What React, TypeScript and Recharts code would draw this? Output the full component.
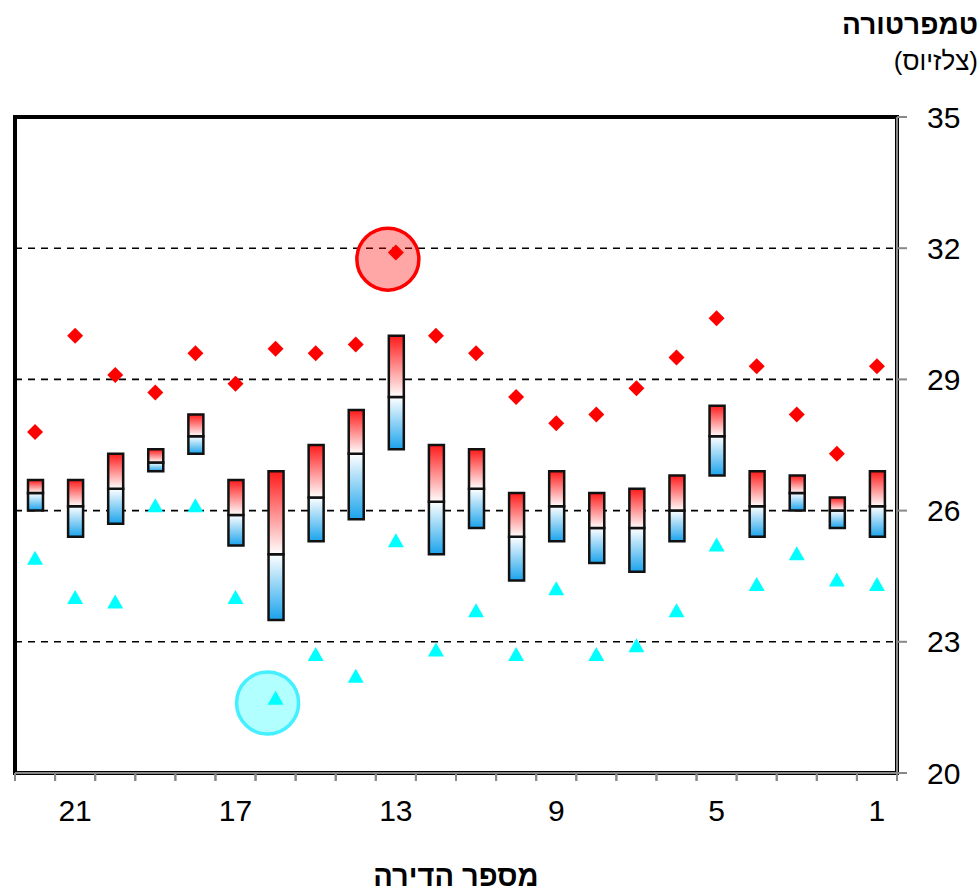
import React from 'react';
import {
  ComposedChart,
  Bar,
  Scatter,
  XAxis,
  YAxis,
  CartesianGrid,
  ReferenceArea,
  ReferenceDot,
  Label,
} from 'recharts';

// apartment numbers and daily temperature statistics (°C)
const apartments = [1, 2, 3, 4, 5, 6, 7, 8, 9, 10, 11, 12, 13, 14, 15, 16, 17, 18, 19, 20, 21, 22];
const maxTemp = [29.3, 27.3, 28.2, 29.3, 30.4, 29.5, 28.8, 28.2, 28.0, 28.6, 29.6, 30.0, 31.9, 29.8, 29.6, 29.7, 28.9, 29.6, 28.7, 29.1, 30.0, 27.8];
const upperQ = [26.9, 26.3, 26.8, 26.9, 28.4, 26.8, 26.5, 26.4, 26.9, 26.4, 27.4, 27.5, 30.0, 28.3, 27.5, 26.9, 26.7, 28.2, 27.4, 27.3, 26.7, 26.7];
const medianTemp = [26.1, 26.0, 26.4, 26.1, 27.7, 26.0, 25.6, 25.6, 26.1, 25.4, 26.5, 26.2, 28.6, 27.3, 26.3, 25.0, 25.9, 27.7, 27.1, 26.5, 26.1, 26.4];
const lowerQ = [25.4, 25.6, 26.0, 25.4, 26.8, 25.3, 24.6, 24.8, 25.3, 24.4, 25.6, 25.0, 27.4, 25.8, 25.3, 23.5, 25.2, 27.3, 26.9, 25.7, 25.4, 26.0];
const minTemp = [24.3, 24.4, 25.0, 24.3, 25.2, 23.7, 22.9, 22.7, 24.2, 22.7, 23.7, 22.8, 25.3, 22.2, 22.7, 21.7, 24.0, 26.1, 26.1, 23.9, 24.0, 24.9];

const yTicks = [20, 23, 26, 29, 32, 35];
const labelledApartments = [1, 5, 9, 13, 17, 21];

// highlighted extremes
const hotSpot = { apartment: 13, temp: 31.75 };
const coldSpot = { apartment: 16, temp: 21.6 };

const data = apartments.map((apt, i) => ({
  apt,
  base: lowerQ[i],
  lower: +(medianTemp[i] - lowerQ[i]).toFixed(2),
  upper: +(upperQ[i] - medianTemp[i]).toFixed(2),
  max: maxTemp[i],
  min: minTemp[i],
}));

const FONT = "Arial, 'Liberation Sans', sans-serif";
const TICK_SIZE = 8;
const TICK_MARGIN = 19;

const Diamond = (props: any) => {
  const { cx, cy } = props;
  if (cx == null || cy == null) return null;
  return (
    <polygon
      points={`${cx},${cy - 8} ${cx + 8},${cy} ${cx},${cy + 8} ${cx - 8},${cy}`}
      fill="#FF0000"
    />
  );
};

const Triangle = (props: any) => {
  const { cx, cy } = props;
  if (cx == null || cy == null) return null;
  return (
    <polygon
      points={`${cx},${cy - 8} ${cx + 8},${cy + 6} ${cx - 8},${cy + 6}`}
      fill="#00FFFF"
    />
  );
};

// tick marks sit on the category boundaries, labels only on every 4th apartment
const ApartmentTick = (props: any) => {
  const { x, y, payload } = props;
  const half = payload.offset || 882 / 22 / 2;
  const top = y - TICK_MARGIN - TICK_SIZE;
  const bottom = y - TICK_MARGIN;
  return (
    <g>
      <line x1={x - half} x2={x - half} y1={top} y2={bottom} stroke="#888" strokeWidth={2} />
      <line x1={x + half} x2={x + half} y1={top} y2={bottom} stroke="#888" strokeWidth={2} />
      {labelledApartments.includes(payload.value) && (
        <text x={x} y={y} dy="0.71em" textAnchor="middle" fontSize={30} fontFamily={FONT} fill="#000">
          {payload.value}
        </text>
      )}
    </g>
  );
};

const circleShape = (fill: string, stroke: string) => (p: any) =>
  <circle cx={p.cx - 8} cy={p.cy} r={31} fill={fill} stroke={stroke} strokeWidth={3.5} />;

export default function App() {
  return (
    <div style={{ position: 'absolute', left: 0, top: 0, width: 980, height: 891, background: '#fff' }}>
      <ComposedChart
        width={980}
        height={891}
        data={data}
        margin={{ top: 117, right: 3, bottom: 0, left: 15 }}
        barSize={15}
      >
        <defs>
          <linearGradient id="warmHalf" x1="0" y1="0" x2="0" y2="1">
            <stop offset="0%" stopColor="#FF1A1A" />
            <stop offset="100%" stopColor="#FFFFFF" />
          </linearGradient>
          <linearGradient id="coolHalf" x1="0" y1="0" x2="0" y2="1">
            <stop offset="0%" stopColor="#FFFFFF" />
            <stop offset="100%" stopColor="#1AA3EC" />
          </linearGradient>
        </defs>
        <CartesianGrid vertical={false} stroke="#000" strokeWidth={1.6} strokeDasharray="7 6" />
        <XAxis
          dataKey="apt"
          type="category"
          reversed
          interval={0}
          height={118}
          tickLine={false}
          tickSize={TICK_SIZE}
          tickMargin={TICK_MARGIN}
          axisLine={{ stroke: '#888', strokeWidth: 2 }}
          tick={<ApartmentTick />}
        >
          <Label
            value="מספר הדירה"
            position="insideBottom"
            offset={5}
            style={{ fontSize: 29, fontWeight: 'bold', fontFamily: FONT, fill: '#000' }}
          />
        </XAxis>
        <YAxis
          orientation="right"
          width={80}
          domain={[20, 35]}
          ticks={yTicks}
          allowDataOverflow
          tickSize={10}
          tickMargin={20}
          axisLine={{ stroke: '#888', strokeWidth: 2 }}
          tickLine={{ stroke: '#888', strokeWidth: 2 }}
          tick={{ fontSize: 30, fill: '#000', fontFamily: FONT, textAnchor: 'start' }}
        />
        <ReferenceArea y1={20} y2={35} fill="none" stroke="#000" strokeWidth={4} />
        <Bar dataKey="base" stackId="box" fill="transparent" stroke="none" isAnimationActive={false} />
        <Bar dataKey="lower" stackId="box" fill="url(#coolHalf)" stroke="#111" strokeWidth={2.5} isAnimationActive={false} />
        <Bar dataKey="upper" stackId="box" fill="url(#warmHalf)" stroke="#111" strokeWidth={2.5} isAnimationActive={false} />
        <Scatter dataKey="max" shape={Diamond} isAnimationActive={false} />
        <Scatter dataKey="min" shape={Triangle} isAnimationActive={false} />
        <ReferenceDot
          x={hotSpot.apartment}
          y={hotSpot.temp}
          r={31}
          shape={circleShape('rgba(255,0,0,0.35)', '#FF0000')}
        />
        <ReferenceDot
          x={coldSpot.apartment}
          y={coldSpot.temp}
          r={31}
          shape={circleShape('rgba(0,255,255,0.3)', '#44F0FF')}
        />
      </ComposedChart>
      <div
        style={{
          position: 'absolute',
          right: 2,
          top: 6,
          direction: 'rtl',
          textAlign: 'right',
          fontFamily: FONT,
          color: '#000',
          lineHeight: 1.35,
        }}
      >
        <div style={{ fontSize: 28, fontWeight: 'bold' }}>טמפרטורה</div>
        <div style={{ fontSize: 26 }}>(צלזיוס)</div>
      </div>
    </div>
  );
}
